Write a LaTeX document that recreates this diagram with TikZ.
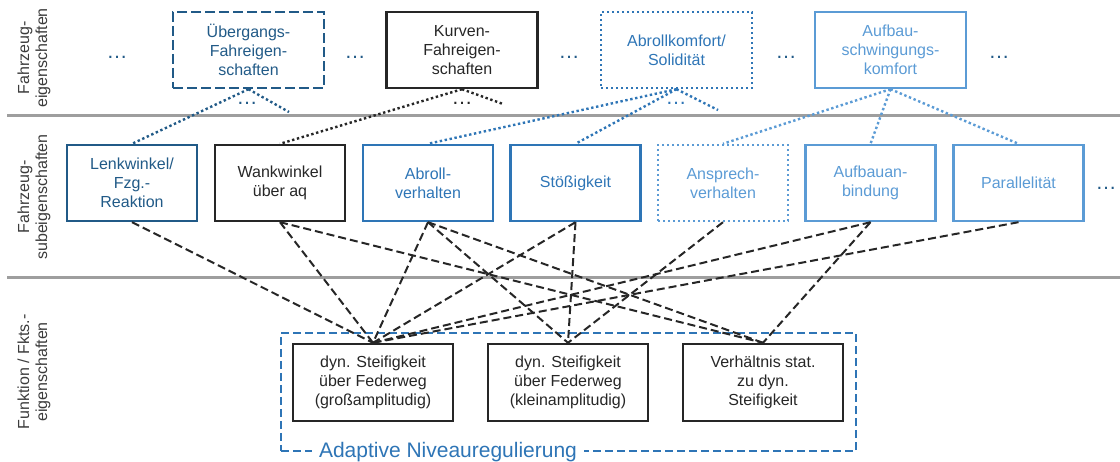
\documentclass[tikz,border=0pt]{standalone}
\usepackage{fontspec}
\setmainfont{Liberation Sans}
\definecolor{cDark}{HTML}{215A87}
\definecolor{cMid}{HTML}{2E75B6}
\definecolor{cLight}{HTML}{5B9BD5}
\definecolor{cBlack}{HTML}{262626}
\definecolor{cLabel}{HTML}{3C3C3C}
\definecolor{cRule}{HTML}{9E9E9E}
\begin{document}
\begin{tikzpicture}[x=1pt,y=-1pt,
  box/.style={draw, line width=2.4pt, align=center, inner sep=0pt,
    font=\fontsize{16}{19}\selectfont},
  topbox/.style={box, minimum width=151pt, minimum height=76pt},
  midbox/.style={box, minimum width=130pt, minimum height=76pt},
  botbox/.style={box, draw=cBlack, text=cBlack, minimum width=160pt, minimum height=77pt},
  dashbox/.style={dash pattern=on 10pt off 4pt},
  dotbox/.style={dash pattern=on 2.4pt off 2.6pt},
  topdot/.style={line width=2.4pt, dash pattern=on 2.4pt off 2.6pt},
  botdash/.style={line width=2pt, draw=cBlack, dash pattern=on 8pt off 4pt},
  sidelabel/.style={rotate=90, align=center, text=cLabel,
    font=\fontsize{16}{18}\selectfont},
  more/.style={font=\fontsize{21}{21}\selectfont, inner sep=0pt},
  rule/.style={line width=3pt, draw=cRule}]
\useasboundingbox (0,0) rectangle (1120,462);

% layer separators
\coordinate (r1a) at (7,116);   \coordinate (r1b) at (1120,116);
\coordinate (r2a) at (7,278);   \coordinate (r2b) at (1120,278);
\draw[rule] (r1a) -- (r1b);
\draw[rule] (r2a) -- (r2b);

% layer titles
\node[sidelabel] (lab1) at (34,58)  {Fahrzeug-\\eigenschaften};
\node[sidelabel] (lab2) at (34,197) {Fahrzeug-\\subeigenschaften};
\node[sidelabel] (lab3) at (34,372) {Funktion / Fkts.-\\eigenschaften};

% vehicle properties
\node[topbox, draw=cDark, text=cDark, dashbox] (ueb) at (248.5,50) {Übergangs-\\Fahreigen-\\schaften};
\node[topbox, draw=cBlack, text=cBlack] (kur) at (462,50) {Kurven-\\Fahreigen-\\schaften};
\node[topbox, draw=cMid, text=cMid, dotbox] (abk) at (676.5,50) {Abrollkomfort/\\Solidität};
\node[topbox, draw=cLight, text=cLight] (auf) at (890.5,50) {Aufbau-\\schwingungs-\\komfort};

\node[more, text=cDark] (m1) at (117,57) {…};
\node[more, text=cDark] (m2) at (355,57) {…};
\node[more, text=cDark] (m3) at (569,57) {…};
\node[more, text=cDark] (m4) at (786,57) {…};
\node[more, text=cDark] (m5) at (999,57) {…};
\node[more, text=cDark] (u1) at (247,103) {…};
\node[more, text=cBlack] (u2) at (462,103) {…};
\node[more, text=cMid] (u3) at (676,103) {…};

% vehicle sub-properties
\node[midbox, draw=cDark, text=cDark] (lenk) at (132,183) {Lenkwinkel/\\Fzg.-\\Reaktion};
\node[midbox, draw=cBlack, text=cBlack] (wank) at (280,183) {Wankwinkel\\über aq};
\node[midbox, draw=cMid, text=cMid] (abv) at (428,183) {Abroll-\\verhalten};
\node[midbox, draw=cMid, text=cMid] (stoss) at (575.5,183) {Stößigkeit};
\node[midbox, draw=cLight, text=cLight, dotbox] (ansp) at (723,183) {Ansprech-\\verhalten};
\node[midbox, draw=cLight, text=cLight] (anb) at (870.5,183) {Aufbauan-\\bindung};
\node[midbox, draw=cLight, text=cLight] (par) at (1018.5,183) {Parallelität};
\node[more, text=cDark] (m6) at (1106,188) {…};

% function group
\node[draw=cMid, line width=2.2pt, dash pattern=on 8pt off 4pt,
  minimum width=575pt, minimum height=118pt, inner sep=0pt] (anr) at (568.5,392) {};
\node[anchor=base, fill=white, text=cMid, inner xsep=7pt, inner ysep=2pt,
  font=\fontsize{21}{21}\selectfont] (anrlab) at (448,457) {Adaptive Niveauregulierung};

\node[botbox] (gross) at (373,382.5) {dyn. Steifigkeit\\über Federweg\\(großamplitudig)};
\node[botbox] (klein) at (568,382.5) {dyn. Steifigkeit\\über Federweg\\(kleinamplitudig)};
\node[botbox] (verh) at (763,382.5) {Verhältnis stat.\\zu dyn.\\Steifigkeit};

% links vehicle properties -> sub-properties
\coordinate (uebfree) at (289,112);
\coordinate (kurfree) at (503,104);
\coordinate (abkfree) at (718,110);
\draw[topdot, cDark] (ueb.south) -- (lenk.north);
\draw[topdot, cDark] (ueb.south) -- (uebfree);
\draw[topdot, cBlack] (kur.south) -- (wank.north);
\draw[topdot, cBlack] (kur.south) -- (kurfree);
\draw[topdot, cMid] (abk.south) -- (abv.north);
\draw[topdot, cMid] (abk.south) -- (stoss.north);
\draw[topdot, cMid] (abk.south) -- (abkfree);
\draw[topdot, cLight] (auf.south) -- (ansp.north);
\draw[topdot, cLight] (auf.south) -- (anb.north);
\draw[topdot, cLight] (auf.south) -- (par.north);

% links sub-properties -> functions
\draw[botdash] (lenk.south) -- (gross.north);
\draw[botdash] (wank.south) -- (gross.north);
\draw[botdash] (wank.south) -- (verh.north);
\draw[botdash] (abv.south) -- (gross.north);
\draw[botdash] (abv.south) -- (klein.north);
\draw[botdash] (abv.south) -- (verh.north);
\draw[botdash] (stoss.south) -- (gross.north);
\draw[botdash] (stoss.south) -- (klein.north);
\draw[botdash] (ansp.south) -- (klein.north);
\draw[botdash] (anb.south) -- (gross.north);
\draw[botdash] (anb.south) -- (verh.north);
\draw[botdash] (par.south) -- (gross.north);
\end{tikzpicture}
\end{document}
